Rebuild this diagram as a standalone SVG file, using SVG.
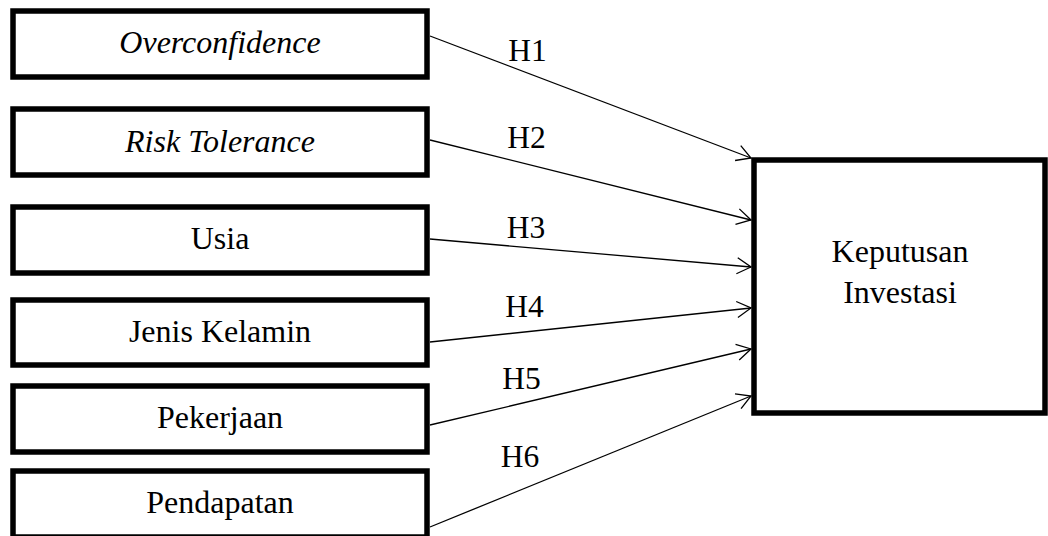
<svg xmlns="http://www.w3.org/2000/svg" width="1048" height="536" viewBox="0 0 1048 536">
<defs>
<style>
.box{fill:#fff;stroke:#000;stroke-width:5.5}
.t{font-family:"Liberation Serif","Times New Roman",serif;font-size:32px;fill:#000;text-anchor:middle}
.it{font-style:italic}
.c{fill:none;stroke:#000;stroke-width:1.3}
.lbl{font-family:"Liberation Serif","Times New Roman",serif;font-size:31.5px;fill:#000;text-anchor:middle}
</style>
<marker id="arr" markerUnits="userSpaceOnUse" viewBox="-16 -10 18 20" refX="0" refY="0" markerWidth="18" markerHeight="20" orient="auto" overflow="visible">
<path d="M-14,-8 L0,0 L-14,8" fill="none" stroke="#000" stroke-width="1.3"/>
</marker>
</defs>
<rect width="1048" height="536" fill="#fff"/>
<g id="connectors">
<line class="c" x1="430" y1="36" x2="751" y2="158" marker-end="url(#arr)"/>
<line class="c" x1="430" y1="140" x2="751" y2="220" marker-end="url(#arr)"/>
<line class="c" x1="430" y1="239" x2="751" y2="267" marker-end="url(#arr)"/>
<line class="c" x1="430" y1="342" x2="751" y2="308" marker-end="url(#arr)"/>
<line class="c" x1="430" y1="425" x2="751" y2="349" marker-end="url(#arr)"/>
<line class="c" x1="430" y1="527" x2="751" y2="396" marker-end="url(#arr)"/>
<text class="lbl" x="527.5" y="61">H1</text>
<text class="lbl" x="526.5" y="148">H2</text>
<text class="lbl" x="526" y="238">H3</text>
<text class="lbl" x="524.5" y="317">H4</text>
<text class="lbl" x="521.5" y="389">H5</text>
<text class="lbl" x="520" y="467">H6</text>
</g>
<g id="overconfidence">
<rect class="box" x="13" y="11" width="414" height="66"/>
<text class="t it" x="220" y="53">Overconfidence</text>
</g>
<g id="risk-tolerance">
<rect class="box" x="13" y="109" width="414" height="66"/>
<text class="t it" x="220" y="152">Risk Tolerance</text>
</g>
<g id="usia">
<rect class="box" x="13" y="207" width="414" height="66"/>
<text class="t" x="220" y="249">Usia</text>
</g>
<g id="jenis-kelamin">
<rect class="box" x="13" y="300" width="414" height="65"/>
<text class="t" x="220" y="342">Jenis Kelamin</text>
</g>
<g id="pekerjaan">
<rect class="box" x="13" y="386" width="414" height="66"/>
<text class="t" x="220" y="428">Pekerjaan</text>
</g>
<g id="pendapatan">
<rect class="box" x="13" y="471" width="414" height="66"/>
<text class="t" x="220" y="513">Pendapatan</text>
</g>
<g id="keputusan-investasi">
<rect class="box" x="754" y="160" width="291" height="253"/>
<text class="t" x="900" y="262">Keputusan</text>
<text class="t" x="900" y="303">Investasi</text>
</g>
</svg>
